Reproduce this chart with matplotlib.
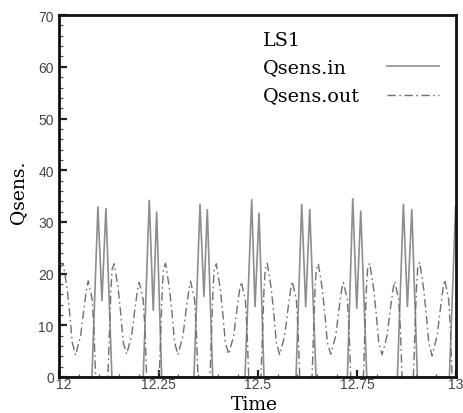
import matplotlib
matplotlib.use("Agg")
import matplotlib.pyplot as plt
import matplotlib.transforms as mtransforms
from matplotlib.ticker import MultipleLocator

# sensible heat flow, inlet (solid) and outlet (dash-dot), case LS1
t_in = [12.0, 12.0820, 12.0971, 12.1072, 12.1173, 12.1324,
        12.2113, 12.2265, 12.2366, 12.2451, 12.2578,
        12.3392, 12.3544, 12.3644, 12.3728, 12.3864,
        12.4678, 12.4847, 12.4931, 12.5032, 12.5158,
        12.5965, 12.6108, 12.6209, 12.6310, 12.6469,
        12.7259, 12.7395, 12.7495, 12.7596, 12.7748,
        12.8520, 12.8671, 12.8772, 12.8883, 12.9024,
        12.9831, 12.9987]
q_in = [0.0, 0.0, 33.0, 14.7, 32.7, 0.0,
        0.0, 34.3, 12.8, 32.0, 0.0,
        0.0, 33.5, 15.5, 32.5, 0.0,
        0.0, 34.4, 13.5, 31.8, 0.0,
        0.0, 33.5, 13.5, 32.5, 0.0,
        0.0, 34.6, 13.2, 32.2, 0.0,
        0.0, 33.5, 13.5, 32.5, 0.0,
        0.0, 33.0]

t_out = [12.0, 12.0096, 12.0197, 12.0265, 12.0323, 12.0409, 12.0535, 12.0618,
         12.0686, 12.0726, 12.0827, 12.0870, 12.0913,
         12.1223, 12.1299, 12.1331, 12.1382, 12.1483, 12.1551, 12.1609, 12.1695,
         12.1821, 12.1904, 12.1972, 12.2012, 12.2113, 12.2156, 12.2199,
         12.2517, 12.2593, 12.2625, 12.2676, 12.2777, 12.2845, 12.2903, 12.2989,
         12.3115, 12.3198, 12.3266, 12.3306, 12.3407, 12.3450, 12.3493,
         12.3796, 12.3872, 12.3904, 12.3955, 12.4056, 12.4124, 12.4182, 12.4268,
         12.4394, 12.4477, 12.4545, 12.4585, 12.4686, 12.4729, 12.4772,
         12.5082, 12.5158, 12.5190, 12.5241, 12.5342, 12.5410, 12.5468, 12.5554,
         12.5680, 12.5763, 12.5831, 12.5871, 12.5972, 12.6015, 12.6058,
         12.6368, 12.6444, 12.6476, 12.6527, 12.6628, 12.6696, 12.6754, 12.6840,
         12.6966, 12.7049, 12.7117, 12.7157, 12.7258, 12.7301, 12.7344,
         12.7662, 12.7738, 12.7770, 12.7821, 12.7922, 12.7990, 12.8048, 12.8134,
         12.8260, 12.8343, 12.8411, 12.8451, 12.8552, 12.8595, 12.8638,
         12.8923, 12.8999, 12.9031, 12.9082, 12.9183, 12.9251, 12.9309, 12.9395,
         12.9521, 12.9604, 12.9672, 12.9712, 12.9813, 12.9856, 12.9899,
         13.0]
q_out = [21.0, 21.9, 17.0, 11.9, 6.7, 4.2, 8.0, 13.2, 17.0, 18.6, 15.0, 9.3, 0.0,
         0.0, 17.0, 20.9, 21.9, 17.0, 11.9, 6.7, 4.4, 8.0, 13.2, 17.0, 18.3, 15.0, 9.3, 0.0,
         0.0, 17.0, 20.9, 22.0, 17.0, 11.9, 6.7, 4.3, 8.0, 13.2, 17.0, 18.5, 15.0, 9.3, 0.0,
         0.0, 17.0, 20.9, 21.9, 17.0, 11.9, 6.7, 4.4, 8.0, 13.2, 17.0, 18.4, 15.0, 9.3, 0.0,
         0.0, 17.0, 20.9, 22.0, 17.0, 11.9, 6.7, 4.3, 8.0, 13.2, 17.0, 18.5, 15.0, 9.3, 0.0,
         0.0, 17.0, 20.9, 21.9, 17.0, 11.9, 6.7, 4.4, 8.0, 13.2, 17.0, 18.3, 15.0, 9.3, 0.0,
         0.0, 17.0, 20.9, 22.0, 17.0, 11.9, 6.7, 4.3, 8.0, 13.2, 17.0, 18.5, 15.0, 9.3, 0.0,
         0.0, 17.0, 21.0, 22.2, 17.0, 11.9, 6.7, 4.1, 8.0, 13.2, 17.2, 18.8, 15.0, 9.3, 0.0,
         0.0]

xticks = [12, 12.25, 12.5, 12.75, 13]
xticklabels = ["12", "12.25", "12.5", "12.75", "13"]

serif = "DejaVu Serif"
sans = "Liberation Sans"
dashdot = (0, (6, 2.5, 1.2, 2.5))

fig = plt.figure(figsize=(4.64, 4.14), dpi=100)
ax = fig.add_axes([0.128, 0.087, 0.855, 0.874])

ax.plot(t_in, q_in, color="#8e8e8e", lw=1.2, solid_joinstyle="miter")
ax.plot(t_out, q_out, color="#707070", lw=1.0, linestyle=dashdot)

ax.set_xlim(12, 13)
ax.set_ylim(0, 70)
ax.set_xticks(xticks)
ax.set_xticklabels(xticklabels)
ax.xaxis.set_minor_locator(MultipleLocator(0.05))
ax.yaxis.set_major_locator(MultipleLocator(10))
ax.yaxis.set_minor_locator(MultipleLocator(2))

for s in ax.spines.values():
    s.set_linewidth(2.0)
    s.set_color("#111111")

ax.tick_params(which="major", direction="in", length=6, width=1.6, color="#222222",
               labelsize=10, labelcolor="#444444")
ax.tick_params(which="minor", direction="in", width=0.9, color="#555555")
ax.tick_params(axis="x", which="minor", length=2.2)
ax.tick_params(axis="y", which="minor", length=3)
ax.tick_params(axis="x", which="major", length=5.2, pad=0)
ax.tick_params(axis="y", which="major", pad=4)
for lab in ax.get_xticklabels() + ax.get_yticklabels():
    lab.set_fontfamily(sans)

# nudge the corner labels apart
xl0 = ax.get_xticklabels()[0]
xl0.set_transform(xl0.get_transform() +
                  mtransforms.ScaledTranslation(3 / 72, 0, fig.dpi_scale_trans))
yl0 = ax.get_yticklabels()[0]
yl0.set_transform(yl0.get_transform() +
                  mtransforms.ScaledTranslation(0, 2 / 72, fig.dpi_scale_trans))

ax.set_xlabel("Time", fontfamily=serif, fontsize=13.5)
ax.xaxis.set_label_coords(0.492, -0.051)
ax.set_ylabel("Qsens.", fontfamily=serif, fontsize=13.5)
ax.yaxis.set_label_coords(-0.08, 0.512)

# legend block: title and entries on the left, line samples on the right
ax.text(0.513, 0.917, "LS1", transform=ax.transAxes, fontfamily=serif,
        fontsize=13.8, va="baseline", ha="left")
ax.text(0.513, 0.843, "Qsens.in", transform=ax.transAxes, fontfamily=serif,
        fontsize=13.8, va="baseline", ha="left")
ax.text(0.513, 0.765, "Qsens.out", transform=ax.transAxes, fontfamily=serif,
        fontsize=13.8, va="baseline", ha="left")
ax.plot([0.826, 0.957], [0.860, 0.860], transform=ax.transAxes,
        color="#8e8e8e", lw=1.2)
ax.plot([0.826, 0.957], [0.779, 0.779], transform=ax.transAxes,
        color="#707070", lw=1.0, linestyle=dashdot)

fig.savefig("out.png", dpi=100)
